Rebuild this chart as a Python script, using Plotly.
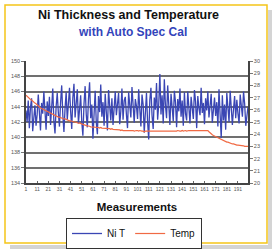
import plotly.graph_objects as go

# ---- data ----
ni_t = [
    143.5,142.0,144.8,141.2,143.9,145.1,140.8,142.6,144.2,141.5,
    143.0,145.6,142.2,140.9,144.5,143.1,146.0,142.4,141.0,144.7,
    142.8,145.3,141.6,143.9,146.4,142.1,140.5,144.0,145.8,143.2,
    141.4,144.6,146.8,142.9,140.7,143.8,145.9,142.3,144.9,146.5,
    143.4,141.1,145.2,147.0,142.6,144.1,146.3,141.8,143.7,145.5,
    142.0,140.2,144.4,146.7,143.0,141.3,145.0,147.2,142.5,144.3,
    139.8,143.6,146.1,141.9,140.4,145.4,143.3,146.9,142.7,144.6,
    141.5,145.7,143.1,140.9,146.2,144.0,142.2,145.1,141.6,143.8,
    146.0,142.9,144.5,145.8,141.7,143.4,146.4,142.3,144.8,145.3,
    143.0,141.2,145.9,144.2,142.6,146.6,143.5,141.9,145.0,144.1,
    142.4,146.3,143.7,141.4,145.6,144.3,140.6,143.2,145.8,142.0,
    139.7,144.9,146.5,142.8,141.1,145.2,143.6,147.1,142.3,144.4,
    148.3,143.0,145.5,141.8,147.6,144.2,142.5,146.8,143.3,141.6,
    145.7,143.9,142.1,146.1,144.6,141.3,145.0,143.4,146.4,142.7,
    144.8,141.5,145.9,143.1,142.2,146.0,144.0,141.8,145.3,143.6,
    142.4,146.2,144.7,141.2,145.4,143.8,142.9,146.5,143.2,144.5,
    141.7,145.1,143.5,146.0,142.6,144.1,145.7,141.9,143.9,145.2,
    142.8,144.6,141.4,146.3,143.0,139.9,145.5,142.2,144.3,141.0,
    145.8,143.4,142.0,146.1,144.2,141.6,143.7,145.4,142.5,144.9,
    143.1,141.8,145.6,143.9,142.7,146.0,144.4,141.5,143.3,144.0,
]
temp = [
    27.2,27.1,27.0,26.95,26.85,26.8,26.7,26.65,26.55,26.5,
    26.4,26.3,26.2,26.15,26.1,26.05,26.0,25.95,25.9,25.85,
    25.8,25.75,25.7,25.65,25.6,25.55,25.5,25.5,25.45,25.4,
    25.4,25.35,25.3,25.3,25.25,25.25,25.2,25.2,25.15,25.1,
    25.1,25.05,25.05,25.0,25.0,24.95,24.95,24.9,24.9,24.9,
    24.85,24.8,24.8,24.75,24.7,24.7,24.65,24.65,24.6,24.6,
    24.6,24.6,24.55,24.55,24.55,24.55,24.5,24.55,24.5,24.5,
    24.5,24.5,24.5,24.45,24.45,24.45,24.4,24.45,24.4,24.4,
    24.4,24.35,24.35,24.35,24.35,24.3,24.35,24.3,24.3,24.35,
    24.3,24.3,24.3,24.35,24.3,24.3,24.3,24.25,24.3,24.3,
    24.3,24.25,24.3,24.25,24.25,24.25,24.2,24.25,24.25,24.25,
    24.25,24.2,24.25,24.25,24.2,24.25,24.25,24.25,24.2,24.25,
    24.25,24.25,24.2,24.25,24.25,24.25,24.25,24.2,24.25,24.25,
    24.25,24.25,24.25,24.2,24.25,24.25,24.3,24.25,24.25,24.25,
    24.3,24.25,24.3,24.3,24.25,24.3,24.3,24.3,24.3,24.3,
    24.3,24.3,24.3,24.35,24.3,24.3,24.35,24.3,24.3,24.35,
    24.3,24.3,24.3,24.3,24.2,24.1,24.0,23.95,23.9,23.85,
    23.8,23.75,23.7,23.65,23.6,23.55,23.5,23.45,23.4,23.4,
    23.35,23.35,23.3,23.3,23.25,23.2,23.2,23.15,23.15,23.1,
    23.1,23.1,23.05,23.05,23.1,23.05,23.0,23.0,23.05,23.0,
]
measurements = list(range(1, len(ni_t) + 1))
x_ticks = list(range(1, len(ni_t) + 1, 10))
left_ticks = [134, 136, 138, 140, 142, 144, 146, 148, 150]
right_ticks = [20, 21, 22, 23, 24, 25, 26, 27, 28, 29, 30]

FONT = "Arial, Liberation Sans, sans-serif"
W, H = 272, 249
L, R, T, B = 26, 24, 61, 66
PW, PH = W - L - R, H - T - B

def px(x):
    return (x - L) / PW

def py(y):
    return (T + PH - y) / PH

fig = go.Figure()
fig.add_trace(go.Scatter(x=measurements, y=ni_t, name="Ni T", mode="lines",
                         line=dict(color="#3a46b4", width=1.3)))
fig.add_trace(go.Scatter(x=measurements, y=temp, name="Temp", mode="lines",
                         line=dict(color="#f06a44", width=1.2), yaxis="y2"))

fig.update_layout(
    width=W, height=H,
    margin=dict(l=L, r=R, t=T, b=B, autoexpand=False),
    paper_bgcolor="white", plot_bgcolor="white",
    font=dict(family=FONT, size=6, color="#555"),
    xaxis=dict(range=[1, len(ni_t)], tickvals=x_ticks, ticktext=[str(v) for v in x_ticks],
               tickangle=0, tickfont=dict(size=5), showgrid=False, zeroline=False, automargin=False,
               showline=True, linecolor="#444", linewidth=1.5, ticks="inside", ticklen=2,
               tickcolor="#666",
               title=dict(text="<b>Measurements</b>", font=dict(size=11.5, color="#111"), standoff=12)),
    yaxis=dict(range=[134, 150], tickvals=left_ticks, showgrid=True, gridcolor="#707070",
               gridwidth=1.5, zeroline=False, showline=True, linecolor="#444", linewidth=1.5,
               automargin=False,
               ticks="outside", ticklen=3, tickcolor="#777", tickfont=dict(size=5.5)),
    yaxis2=dict(range=[20, 30], tickvals=right_ticks, overlaying="y", side="right",
                showgrid=False, zeroline=False, showline=True, linecolor="#444", linewidth=1.5,
                automargin=False,
                ticks="outside", ticklen=3, tickcolor="#777", tickfont=dict(size=5.5)),
    showlegend=True,
    legend=dict(orientation="h", x=px(134), xanchor="center", y=py(218), yanchor="top",
                bordercolor="#333", borderwidth=1, font=dict(size=10, color="#111"),
                itemwidth=30, tracegroupgap=0),
    shapes=[
        dict(type="rect", xref="paper", yref="paper", x0=px(268), x1=px(272), y0=py(249), y1=py(10),
             fillcolor="#d4d4d4", line=dict(width=0), layer="below"),
        dict(type="rect", xref="paper", yref="paper", x0=px(10), x1=px(272), y0=py(249), y1=py(245),
             fillcolor="#d4d4d4", line=dict(width=0), layer="below"),
        dict(type="rect", xref="paper", yref="paper", x0=px(5), x1=px(267), y0=py(243), y1=py(5),
             line=dict(color="#f5c518", width=1.5), layer="below"),
    ],
    annotations=[
        dict(text="<b>Ni Thickness and Temperature</b>", xref="paper", yref="paper",
             x=px(128), y=py(15), xanchor="center", yanchor="middle", showarrow=False,
             font=dict(size=12.5, color="#111", family=FONT)),
        dict(text="<b>with Auto Spec Cal</b>", xref="paper", yref="paper",
             x=px(132), y=py(32), xanchor="center", yanchor="middle", showarrow=False,
             font=dict(size=12, color="#3344bb", family=FONT)),
    ],
)

fig.write_html("out.html", config={"displayModeBar": False},
               post_script="document.body.style.margin='0';document.body.style.overflow='hidden';")
